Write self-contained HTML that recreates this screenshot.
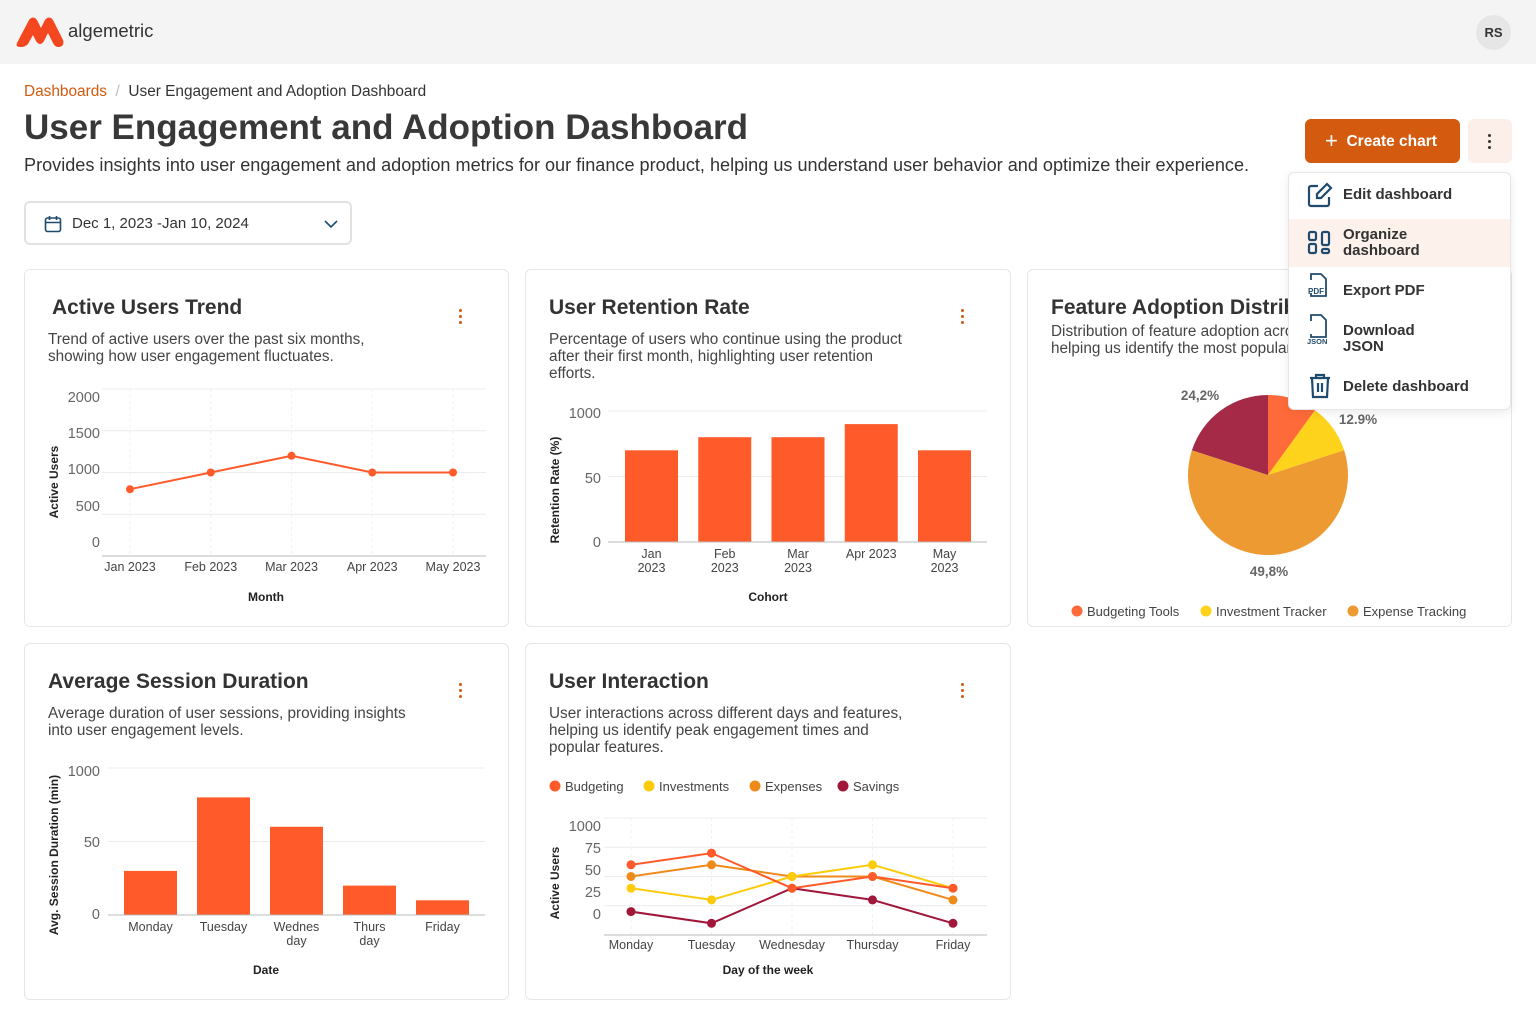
<!DOCTYPE html>
<html><head><meta charset="utf-8"><style>
*{box-sizing:border-box;margin:0;padding:0}
body{width:1536px;height:1024px;position:relative;background:#fff;font-family:"Liberation Sans",sans-serif;color:#333;overflow:hidden}
.abs{position:absolute}
.card{position:absolute;border:1px solid #e6e6e6;border-radius:6px;background:#fff}
.ct{position:absolute;font-weight:bold;font-size:21px;color:#333;white-space:nowrap}
.cd{position:absolute;font-size:15.3px;line-height:17px;color:#444;white-space:nowrap}
.kb{position:absolute;width:4px}
.kb i{display:block;width:3px;height:3px;border-radius:50%;background:#D35A0F;margin-bottom:3px}
.mi{position:absolute;left:1288px;width:223px;font-weight:bold;font-size:14.5px;color:#333;line-height:16px}
svg text{font-family:"Liberation Sans",sans-serif}
</style></head><body>
<div class="abs" style="left:0;top:0;width:1536px;height:64px;background:#f4f4f4"></div>
<svg class="abs" style="left:15px;top:16px" width="50" height="32" viewBox="0 0 50 32"><path d="M2 27 L14 4 Q18 -1 22 4 L26 12 L30 4 Q34 -1 38 4 L48 24 Q50 31 43 31 Q40 31 38 27 L33 17 L29 25 Q25 31 21 25 L18 19 L13 28 Q10 31 6 31 Q0 31 2 27Z" fill="#f4461f"/></svg>
<div class="abs" style="left:68px;top:20px;font-size:18.5px;color:#333">algemetric</div>
<div class="abs" style="left:1476px;top:15px;width:35px;height:35px;border-radius:50%;background:#e6e6e6;font-size:13px;font-weight:bold;text-align:center;line-height:35px;color:#333">RS</div>

<div class="abs" style="left:24px;top:83px;font-size:15.4px;color:#333;white-space:nowrap"><span style="color:#D35A0F">Dashboards</span> <span style="color:#bbb">&nbsp;/&nbsp;</span> User Engagement and Adoption Dashboard</div>
<div class="abs" style="left:24px;top:108px;font-size:35px;font-weight:bold;color:#383838;white-space:nowrap">User Engagement and Adoption Dashboard</div>
<div class="abs" style="left:24px;top:155px;font-size:18.1px;color:#333;white-space:nowrap">Provides insights into user engagement and adoption metrics for our finance product, helping us understand user behavior and optimize their experience.</div>

<div class="abs" style="left:24px;top:201px;width:328px;height:44px;border:2px solid #e2e2e2;border-radius:6px">
<svg class="abs" style="left:18px;top:12px" width="18" height="18" viewBox="0 0 18 18"><rect x="1.5" y="3" width="15" height="13.5" rx="2" fill="none" stroke="#1f4b6e" stroke-width="1.6"/><path d="M1.5 7.5h15M5.5 1v4M12.5 1v4" stroke="#1f4b6e" stroke-width="1.6"/></svg>
<div class="abs" style="left:46px;top:12px;font-size:15px;color:#333;white-space:nowrap">Dec 1, 2023 -Jan 10, 2024</div>
<svg class="abs" style="left:298px;top:16px" width="14" height="10"><path d="M1 2l6 6 6-6" fill="none" stroke="#1f4b6e" stroke-width="1.6"/></svg>
</div>

<div class="abs" style="left:1305px;top:119px;width:155px;height:44px;background:#D35A0F;border-radius:6px;color:#fff;font-weight:bold;font-size:15.5px;line-height:44px;padding-left:20px;white-space:nowrap"><span style="font-size:22px;font-weight:normal;vertical-align:-2px">+</span>&nbsp;&nbsp;Create chart</div>
<div class="abs" style="left:1468px;top:119px;width:44px;height:44px;background:#fcefe9;border-radius:6px"><div class="kb" style="left:20px;top:15px"><i style="background:#333"></i><i style="background:#333"></i><i style="background:#333"></i></div></div>

<!-- cards -->
<div class="card" style="left:24px;top:269px;width:485px;height:358px"></div>
<div class="card" style="left:525px;top:269px;width:486px;height:358px"></div>
<div class="card" style="left:1027px;top:269px;width:485px;height:358px"></div>
<div class="card" style="left:24px;top:643px;width:485px;height:357px"></div>
<div class="card" style="left:525px;top:643px;width:486px;height:357px"></div>

<div class="ct" style="left:52px;top:296px">Active Users Trend</div>
<div class="cd" style="left:48px;top:331px">Trend of active users over the past six months,<br>showing how user engagement fluctuates.</div>
<div class="kb" style="left:459px;top:309px"><i></i><i></i><i></i></div>

<div class="ct" style="left:549px;top:296px">User Retention Rate</div>
<div class="cd" style="left:549px;top:331px">Percentage of users who continue using the product<br>after their first month, highlighting user retention<br>efforts.</div>
<div class="kb" style="left:961px;top:309px"><i></i><i></i><i></i></div>

<div class="ct" style="left:1051px;top:296px;width:237px;overflow:hidden">Feature Adoption Distribution</div>
<div class="cd" style="left:1051px;top:323px;width:237px;overflow:hidden">Distribution of feature adoption across<br>helping us identify the most popular</div>

<div class="ct" style="left:48px;top:670px">Average Session Duration</div>
<div class="cd" style="left:48px;top:705px">Average duration of user sessions, providing insights<br>into user engagement levels.</div>
<div class="kb" style="left:459px;top:683px"><i></i><i></i><i></i></div>

<div class="ct" style="left:549px;top:670px">User Interaction</div>
<div class="cd" style="left:549px;top:705px">User interactions across different days and features,<br>helping us identify peak engagement times and<br>popular features.</div>
<div class="kb" style="left:961px;top:683px"><i></i><i></i><i></i></div>

<svg id="charts" class="abs" style="left:0;top:0" width="1536" height="1024"></svg>

<!-- dropdown -->
<div class="abs" style="left:1288px;top:172px;width:223px;height:238px;background:#fff;border:1px solid #e6e6e6;border-radius:6px;box-shadow:0 3px 10px rgba(0,0,0,0.08)"></div>
<div class="abs" style="left:1289px;top:219px;width:221px;height:48px;background:#fcf1eb"></div>
<svg class="abs" style="left:1306px;top:182px" width="28" height="220" viewBox="0 0 28 220" fill="none" stroke="#1f4b6e" stroke-width="2.2">
<path d="M12 4H5a2 2 0 0 0-2 2v16a2 2 0 0 0 2 2h16a2 2 0 0 0 2-2v-7"/><path d="M21 2l4 4-10 10h-4v-4z"/>
<rect x="3" y="50" width="7" height="8" rx="1.5"/><rect x="3" y="62" width="7" height="9" rx="1.5"/><rect x="16" y="50" width="7" height="13" rx="1.5"/><rect x="16" y="67" width="7" height="4" rx="1.5"/>
<path d="M5 98v-6h10l5 5v17H5v-3" stroke-width="1.8"/><path d="M5 139v-6h10l5 5v17H5v-3" stroke-width="1.8"/>
<path d="M4 196h20M10 196v-3h8v3M6 196l1 19h14l1-19M12 201v9M16 201v9"/>
</svg>
<div class="abs" style="left:1308px;top:287px;font-size:8px;font-weight:bold;color:#1f4b6e">PDF</div>
<div class="abs" style="left:1307px;top:337px;font-size:7.5px;font-weight:bold;color:#1f4b6e">JSON</div>
<div class="mi" style="left:1343px;top:187px;width:165px;font-size:15px">Edit dashboard</div>
<div class="mi" style="left:1343px;top:227px;width:165px;font-size:15px">Organize<br>dashboard</div>
<div class="mi" style="left:1343px;top:283px;width:165px;font-size:15px">Export PDF</div>
<div class="mi" style="left:1343px;top:323px;width:165px;font-size:15px">Download<br>JSON</div>
<div class="mi" style="left:1343px;top:379px;width:165px;font-size:15px">Delete dashboard</div>

<script>
// Active users trend
const auMonths=["Jan 2023","Feb 2023","Mar 2023","Apr 2023","May 2023"];
const auValues=[800,1000,1200,1000,1000];
const auTicks=["2000","1500","1000","500","0"];
// Retention
const rtCohorts=[["Jan","2023"],["Feb","2023"],["Mar","2023"],["Apr 2023"],["May","2023"]];
const rtValues=[70,80,80,90,70];
const rtTicks=["1000","50","0"];
// Session duration
const sdDays=[["Monday"],["Tuesday"],["Wednes","day"],["Thurs","day"],["Friday"]];
const sdValues=[30,80,60,20,10];
const sdTicks=["1000","50","0"];
// Feature adoption
const faLabels=["Budgeting Tools","Investment Tracker","Expense Tracking","Savings"];
const faValues=[10,10,60,20];
const faPrinted=["24,2%","12.9%","49,8%"];
// User interaction
const uiDays=["Monday","Tuesday","Wednesday","Thursday","Friday"];
const uiSeriesNames=["Budgeting","Investments","Expenses","Savings"];
const uiBudgeting=[60,70,40,50,40];
const uiInvestments=[40,30,50,60,40];
const uiExpenses=[50,60,50,50,30];
const uiSavings=[20,10,40,30,10];
const uiTicks=["1000","75","50","25","0"];

const NS="http://www.w3.org/2000/svg";
const svg=document.getElementById('charts');
function mk(tag,attrs,parent){const e=document.createElementNS(NS,tag);for(const k in attrs)e.setAttribute(k,attrs[k]);(parent||svg).appendChild(e);return e;}
function txt(x,y,s,attrs){const t=mk('text',Object.assign({x:x,y:y},attrs||{}));t.textContent=s;return t;}
const ORANGE="#FF5A2A";

// ---- Active users line chart
{
  const g=mk('g',{});
  
  
  const x0=102,x1=486,yTop=389,yBot=556,maxV=2000;
  const y=v=>yBot-(v/maxV)*(yBot-yTop);
  const xs=i=>130+i*80.75;
  [0,500,1000,1500,2000].forEach(v=>{ if(v>0) mk('line',{x1:x0,x2:x1,y1:y(v),y2:y(v),stroke:'#ececec'},g);});
  auMonths.forEach((m,i)=>{mk('line',{x1:xs(i),x2:xs(i),y1:yTop,y2:yBot,stroke:'#f0f0f0','stroke-dasharray':'3,3'},g);
    const t=txt(xs(i),571,m,{'font-size':12.5,fill:'#444','text-anchor':'middle'});g.appendChild(t);});
  mk('line',{x1:x0,x2:x1,y1:yBot,y2:yBot,stroke:'#bbb'},g);
  const tickY=[397,433,469,506,542];
  auTicks.forEach((t,i)=>{g.appendChild(txt(100,tickY[i]+5,t,{'font-size':14.5,fill:'#666','text-anchor':'end'}));});
  mk('polyline',{points:auValues.map((v,i)=>xs(i)+','+y(v)).join(' '),fill:'none',stroke:ORANGE,'stroke-width':2},g);
  auValues.forEach((v,i)=>{const c=mk('circle',{cx:xs(i),cy:y(v),r:4,fill:ORANGE},g);
    
    });
  g.appendChild(txt(266,601,'Month',{'font-size':12,'font-weight':'bold',fill:'#222','text-anchor':'middle'}));
  g.appendChild(txt(0,0,'Active Users',{'font-size':12,'font-weight':'bold',fill:'#222','text-anchor':'middle',transform:'translate(58,482) rotate(-90)'}));
}

// ---- Bar chart helper
function bars(name,cats,vals,ticks,tickY,cfg){
  const g=mk('g',{});
  
  
  const y=v=>cfg.yBot-(v/100)*(cfg.yBot-cfg.yTop);
  [100,50].forEach(v=>mk('line',{x1:cfg.x0,x2:cfg.x1,y1:y(v),y2:y(v),stroke:'#ececec'},g));
  ticks.forEach((t,i)=>g.appendChild(txt(cfg.tx,tickY[i]+5,t,{'font-size':14.5,fill:'#666','text-anchor':'end'})));
  cats.forEach((c,i)=>{
    const bx=cfg.b0+i*cfg.step;
    const r=mk('rect',{x:bx,y:y(vals[i]),width:53,height:cfg.yBot-y(vals[i]),fill:ORANGE},g);
    
    
    c.forEach((line,j)=>g.appendChild(txt(bx+26.5,cfg.yBot+16+j*14,line,{'font-size':12.5,fill:'#444','text-anchor':'middle'})));
  });
  mk('line',{x1:cfg.x0,x2:cfg.x1,y1:cfg.yBot,y2:cfg.yBot,stroke:'#bbb'},g);
  g.appendChild(txt(cfg.xtX,cfg.xtY,cfg.xt,{'font-size':12,'font-weight':'bold',fill:'#222','text-anchor':'middle'}));
  g.appendChild(txt(0,0,cfg.yt,{'font-size':12,'font-weight':'bold',fill:'#222','text-anchor':'middle',transform:'translate('+cfg.ytX+','+cfg.ytY+') rotate(-90)'}));
}
bars('retention-chart',rtCohorts,rtValues,rtTicks,[413,478,542],{x0:608,x1:987,yTop:411,yBot:542,tx:601,b0:625,step:73.25,xt:'Cohort',xtX:768,xtY:601,yt:'Retention Rate (%)',ytX:559,ytY:490});
bars('session-chart',sdDays,sdValues,sdTicks,[771,842,914],{x0:108,x1:485,yTop:768,yBot:915,tx:100,b0:124,step:73,xt:'Date',xtX:266,xtY:974,yt:'Avg. Session Duration (min)',ytX:58,ytY:855});

// ---- Pie
{
  const g=mk('g',{});
  
  
  const cx=1268,cy=475,R=80,cols=["#FF6A3A","#FDD31B","#EE9A32","#A52A48"];
  const total=faValues.reduce((a,b)=>a+b,0);let a0=0;
  faValues.forEach((v,i)=>{const a1=a0+v/total*Math.PI*2;
    const p=a=>[cx+R*Math.sin(a),cy-R*Math.cos(a)];const s=p(a0),e=p(a1);
    const path=mk('path',{d:`M${cx},${cy}L${s[0]},${s[1]}A${R},${R} 0 ${a1-a0>Math.PI?1:0} 1 ${e[0]},${e[1]}Z`,fill:cols[i]},g);
    
    
    a0=a1;});
  g.appendChild(txt(1200,400,faPrinted[0],{'font-size':13.5,'font-weight':'bold',fill:'#666','text-anchor':'middle'}));
  g.appendChild(txt(1358,424,faPrinted[1],{'font-size':13.5,'font-weight':'bold',fill:'#666','text-anchor':'middle'}));
  g.appendChild(txt(1269,576,faPrinted[2],{'font-size':13.5,'font-weight':'bold',fill:'#666','text-anchor':'middle'}));
  const lx=[1077,1206,1353];
  faLabels.slice(0,3).forEach((l,i)=>{const c=mk('circle',{cx:lx[i],cy:611,r:5.5,fill:cols[i]},g);
    
    
    g.appendChild(txt(lx[i]+10,616,l,{'font-size':13,fill:'#444'}));});
}

// ---- User interaction lines
{
  const g=mk('g',{});
  
  
  const yTop=818,yBot=935,x0=604,x1=987;
  const y=v=>yBot-(v/100)*(yBot-yTop);
  const xs=i=>631+i*80.5;
  [100,75,50,25].forEach(v=>mk('line',{x1:x0,x2:x1,y1:y(v),y2:y(v),stroke:'#ececec'},g));
  uiDays.forEach((d,i)=>{mk('line',{x1:xs(i),x2:xs(i),y1:yTop,y2:yBot,stroke:'#f0f0f0','stroke-dasharray':'3,3'},g);
    g.appendChild(txt(xs(i),949,d,{'font-size':12.5,fill:'#444','text-anchor':'middle'}));});
  mk('line',{x1:x0,x2:x1,y1:yBot,y2:yBot,stroke:'#bbb'},g);
  const tickY=[826,848,870,892,914];
  uiTicks.forEach((t,i)=>g.appendChild(txt(601,tickY[i]+5,t,{'font-size':14.5,fill:'#666','text-anchor':'end'})));
  const series=[uiBudgeting,uiInvestments,uiExpenses,uiSavings];
  const cols=["#FF5A2A","#FDCB0A","#EE8A1A","#A0173A"];
  const drawOrder=[3,2,1,0];
  drawOrder.forEach(k=>{const s=series[k];
    mk('polyline',{points:s.map((v,i)=>xs(i)+','+y(v)).join(' '),fill:'none',stroke:cols[k],'stroke-width':2},g);
    s.forEach((v,i)=>{const c=mk('circle',{cx:xs(i),cy:y(v),r:4.5,fill:cols[k]},g);
      
      });});
  const lx=[555,649,755,843];
  uiSeriesNames.forEach((n,i)=>{const c=mk('circle',{cx:lx[i],cy:786,r:5.5,fill:cols[i]},g);
    
    
    g.appendChild(txt(lx[i]+10,791,n,{'font-size':13,fill:'#444'}));});
  g.appendChild(txt(768,974,'Day of the week',{'font-size':12,'font-weight':'bold',fill:'#222','text-anchor':'middle'}));
  g.appendChild(txt(0,0,'Active Users',{'font-size':12,'font-weight':'bold',fill:'#222','text-anchor':'middle',transform:'translate(559,883) rotate(-90)'}));
}
</script>
</body></html>
